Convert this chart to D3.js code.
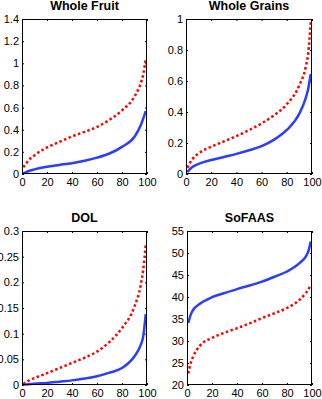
<!DOCTYPE html>
<html>
<head>
<meta charset="utf-8">
<script src="https://cdn.jsdelivr.net/npm/d3@7"></script>
<style>
  body { margin: 0; background: #fff; }
  svg { display: block; font-family: "Liberation Sans", Arial, sans-serif; }
  .tick text { font-size: 11px; fill: #000; }
  .title { font-size: 12.5px; font-weight: bold; text-anchor: middle; }
</style>
</head>
<body>
<div id="chart"></div>
<script>
// Percentile curves, two series per panel (blue solid, red dotted).
const PCT = [1, 3, 5, 10, 20, 30, 40, 50, 60, 70, 80, 90, 95, 97, 99];

const fruitBlue = [0.005, 0.015, 0.025, 0.042, 0.066, 0.082, 0.098, 0.12, 0.148, 0.185, 0.245, 0.336, 0.44, 0.5, 0.567];
const fruitRed = [0.06, 0.09, 0.12, 0.17, 0.24, 0.29, 0.34, 0.38, 0.425, 0.49, 0.575, 0.7, 0.82, 0.9, 1.04];

const grainsBlue = [0.012, 0.03, 0.045, 0.065, 0.09, 0.11, 0.13, 0.153, 0.18, 0.222, 0.284, 0.39, 0.49, 0.55, 0.645];
const grainsRed = [0.04, 0.07, 0.095, 0.133, 0.176, 0.21, 0.245, 0.283, 0.327, 0.38, 0.45, 0.574, 0.69, 0.78, 0.98];

const dolBlue = [0.0005, 0.001, 0.0015, 0.0025, 0.004, 0.0065, 0.009, 0.0125, 0.017, 0.024, 0.033, 0.056, 0.078, 0.095, 0.138];
const dolRed = [0.002, 0.005, 0.008, 0.0136, 0.023, 0.033, 0.043, 0.053, 0.065, 0.084, 0.111, 0.153, 0.195, 0.225, 0.273];

const sofaasBlue = [34.1, 36.0, 37.1, 38.4, 39.96, 40.9, 41.8, 42.6, 43.5, 44.6, 45.8, 47.7, 49.2, 50.3, 52.6];
const sofaasRed = [22.6, 25.0, 26.5, 28.8, 30.7, 31.9, 32.9, 34.0, 35.2, 36.3, 37.5, 39.35, 40.9, 41.7, 42.75];

const X_TICKS = [0, 20, 40, 60, 80, 100];
const fruitTicks = [0, 0.2, 0.4, 0.6, 0.8, 1, 1.2, 1.4];
const grainsTicks = [0, 0.2, 0.4, 0.6, 0.8, 1];
const dolTicks = [0, 0.05, 0.1, 0.15, 0.2, 0.25, 0.3];
const sofaasTicks = [20, 25, 30, 35, 40, 45, 50, 55];

const PANELS = [
  { title: 'Whole Fruit', blue: fruitBlue, red: fruitRed, yDomain: [0, 1.4], yTicks: fruitTicks, box: { x: 22, y: 19, w: 125, h: 155 } },
  { title: 'Whole Grains', blue: grainsBlue, red: grainsRed, yDomain: [0, 1], yTicks: grainsTicks, box: { x: 186, y: 19, w: 126, h: 155 } },
  { title: 'DOL', blue: dolBlue, red: dolRed, yDomain: [0, 0.3], yTicks: dolTicks, box: { x: 22, y: 231, w: 125, h: 154 } },
  { title: 'SoFAAS', blue: sofaasBlue, red: sofaasRed, yDomain: [20, 55], yTicks: sofaasTicks, box: { x: 187, y: 231, w: 125, h: 154 } },
];

const BLUE = '#2b3dff';
const RED = '#ff0000';

const svg = d3.select('#chart').append('svg').attr('width', 322).attr('height', 399);

PANELS.forEach((p) => {
  const { x: bx, y: by, w, h } = p.box;
  const g = svg.append('g').attr('transform', `translate(${bx},${by})`);
  const x = d3.scaleLinear().domain([0, 100]).range([0, w]);
  const y = d3.scaleLinear().domain(p.yDomain).range([h, 0]);

  // inward ticks on all four sides, matlab style
  const fmt = d3.format('~g');
  g.append('g').attr('transform', `translate(0,${h})`)
    .call(d3.axisBottom(x).tickValues(X_TICKS).tickSizeInner(-2).tickSizeOuter(0).tickPadding(4).tickFormat(fmt));
  g.append('g')
    .call(d3.axisTop(x).tickValues(X_TICKS).tickSizeInner(-2).tickSizeOuter(0).tickFormat(''));
  g.append('g')
    .call(d3.axisLeft(y).tickValues(p.yTicks).tickSizeInner(-2).tickSizeOuter(0).tickPadding(3).tickFormat(fmt));
  g.append('g').attr('transform', `translate(${w},0)`)
    .call(d3.axisRight(y).tickValues(p.yTicks).tickSizeInner(-2).tickSizeOuter(0).tickFormat(''));
  g.selectAll('.domain').remove();
  g.selectAll('.tick line').attr('stroke', '#000');

  const line = d3.line()
    .x((d, i) => x(PCT[i]))
    .y((d) => y(d))
    .curve(d3.curveMonotoneX);

  g.append('path').datum(p.blue)
    .attr('fill', 'none').attr('stroke', BLUE).attr('stroke-width', 2.5)
    .attr('d', line);
  g.append('path').datum(p.red)
    .attr('fill', 'none').attr('stroke', RED).attr('stroke-width', 2.5)
    .attr('stroke-dasharray', '2.5 2.5')
    .attr('d', line);

  g.append('rect').attr('x', 0.5).attr('y', 0.5).attr('width', w - 1).attr('height', h - 1)
    .attr('fill', 'none').attr('stroke', '#000').attr('stroke-width', 1);

  g.append('text').attr('class', 'title')
    .attr('x', w / 2).attr('y', -9)
    .text(p.title);
});
</script>
</body>
</html>
